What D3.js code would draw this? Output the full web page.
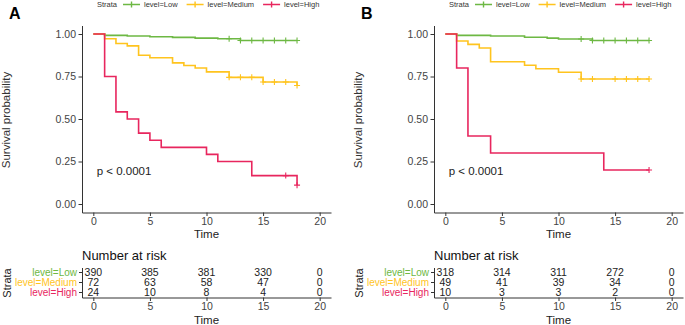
<!DOCTYPE html>
<html lang="en">
<meta charset="utf-8">
<head>
    <script src='https://d3js.org/d3.v7.min.js'></script>
    <style>
        body { margin: 0; background: #fff; }
        text { font-family: "Liberation Sans", Arial, sans-serif; }
    </style>
</head>
<body>
<script>

// strata and colours
const strata = ["level=Low", "level=Medium", "level=High"];
const colors = ["#6DB843", "#FFC41E", "#E8265E"];

// panel A : step times / survival / censor times
const lowTimeA = [0, 1, 3, 5, 7, 9, 11, 13, 18];
const lowSurvA = [1, 0.992, 0.988, 0.984, 0.98, 0.976, 0.972, 0.962, 0.962];
const lowCensA = [12, 13, 14, 15, 16, 17, 18];

const medTimeA = [0, 1, 2, 3, 4, 5, 7, 8, 9, 10, 12, 15, 18];
const medSurvA = [1, 0.972, 0.944, 0.93, 0.875, 0.86, 0.83, 0.815, 0.80, 0.777, 0.745, 0.718, 0.697];
const medCensA = [12, 13, 14, 15, 16, 17, 18];

const highTimeA = [0, 1, 2, 3, 4, 5, 6, 10, 11, 14, 18];
const highSurvA = [1, 0.75, 0.542, 0.5, 0.417, 0.375, 0.333, 0.292, 0.25, 0.167, 0.111];
const highCensA = [17, 18];

// panel B
const lowTimeB = [0, 1, 4, 7, 9, 10, 13, 18];
const lowSurvB = [1, 0.992, 0.988, 0.981, 0.976, 0.971, 0.962, 0.962];
const lowCensB = [12, 13, 14, 15, 16, 17, 18];

const medTimeB = [0, 1, 2, 3, 4, 7, 8, 10, 12, 18];
const medSurvB = [1, 0.959, 0.939, 0.918, 0.837, 0.816, 0.796, 0.775, 0.735, 0.735];
const medCensB = [12, 13, 15, 16, 17, 18];

const highTimeB = [0, 1, 2, 4, 14, 18];
const highSurvB = [1, 0.8, 0.4, 0.3, 0.2, 0.2];
const highCensB = [18];

// number at risk
const riskTimes = [0, 5, 10, 15, 20];
const riskA = [[390, 385, 381, 330, 0], [72, 63, 58, 47, 0], [24, 10, 8, 4, 0]];
const riskB = [[318, 314, 311, 272, 0], [49, 41, 39, 34, 0], [10, 3, 3, 2, 0]];

const yTicks = [0, 0.25, 0.5, 0.75, 1];
const xTicks = [0, 5, 10, 15, 20];
const pText = "p < 0.0001";

const svg = d3.select("body").append("svg")
    .attr("width", 685)
    .attr("height", 325);

function drawPanel(ox, label, curves, risk) {
    const g = svg.append("g");
    const x = d3.scaleLinear().domain([-1, 21]).range([ox, ox + 249]);
    const y = d3.scaleLinear().domain([-0.05, 1.05]).range([212.5, 25.5]);

    // panel letter
    g.append("text").attr("x", ox - 73).attr("y", 18.5)
        .style("font-size", "16px").style("font-weight", "bold").text(label);

    // axes
    const ya = g.append("g").attr("transform", `translate(${ox},0)`)
        .call(d3.axisLeft(y).tickValues(yTicks).tickFormat(d3.format(".2f")).tickSize(3.5).tickSizeOuter(0).tickPadding(2.5));
    const xa = g.append("g").attr("transform", `translate(0,212.5)`)
        .call(d3.axisBottom(x).tickValues(xTicks).tickSize(3.5).tickSizeOuter(0).tickPadding(2));
    [ya, xa].forEach(a => {
        a.selectAll("path, line").attr("stroke", "#333").attr("stroke-width", 1);
        a.selectAll("text").attr("fill", "#444").style("font-size", "10.5px").style("font-family", "Liberation Sans, Arial, sans-serif");
    });

    g.append("text").attr("transform", `translate(${ox - 72},120) rotate(-90)`)
        .attr("text-anchor", "middle").attr("fill", "#333").style("font-size", "11.5px")
        .text("Survival probability");
    g.append("text").attr("x", x(10)).attr("y", 238)
        .attr("text-anchor", "middle").attr("fill", "#222").style("font-size", "11.5px").text("Time");

    // curves
    const line = d3.line().x(d => x(d[0])).y(d => y(d[1])).curve(d3.curveStepAfter);
    curves.forEach((c, i) => {
        const pts = c.time.map((t, j) => [t, c.surv[j]]);
        g.append("path").attr("d", line(pts)).attr("fill", "none")
            .attr("stroke", colors[i]).attr("stroke-width", 1.6);
        const survAt = t => c.surv[d3.bisectRight(c.time, t) - 1];
        g.selectAll(null).data(c.cens).join("path")
            .attr("d", d => `M${x(d) - 3},${y(survAt(d))}h6M${x(d)},${y(survAt(d)) - 3}v6`)
            .attr("stroke", colors[i]).attr("stroke-width", 1.1);
    });

    // p value
    g.append("text").attr("x", x(0.3)).attr("y", y(0.17))
        .attr("fill", "#222").style("font-size", "11.5px").text(pText);

    // legend
    let lx = ox + 15;
    const ly = 4.5;
    const st = g.append("text").attr("x", lx).attr("y", ly).attr("dy", "0.35em")
        .attr("fill", "#333").style("font-size", "7.5px").text("Strata");
    lx += st.node().getComputedTextLength() + 6;
    strata.forEach((s, i) => {
        g.append("path").attr("d", `M${lx},${ly}h17M${lx + 8.5},${ly - 3}v6`)
            .attr("stroke", colors[i]).attr("stroke-width", 1.4);
        lx += 21;
        const t = g.append("text").attr("x", lx).attr("y", ly).attr("dy", "0.35em")
            .attr("fill", "#333").style("font-size", "7.5px").text(s);
        lx += t.node().getComputedTextLength() + 9;
    });

    // risk table
    g.append("text").attr("x", ox).attr("y", 260).attr("fill", "#111")
        .style("font-size", "13px").text("Number at risk");
    const yr = d3.scaleBand().domain(strata).range([267.5, 297.5]);
    const ra = g.append("g").attr("transform", `translate(${ox},0)`)
        .call(d3.axisLeft(yr).tickSize(3).tickSizeOuter(0).tickPadding(2));
    ra.selectAll("text").attr("fill", (d, i) => colors[i]).style("font-size", "10px")
        .style("font-family", "Liberation Sans, Arial, sans-serif");
    const rx = g.append("g").attr("transform", `translate(0,297.5)`)
        .call(d3.axisBottom(x).tickValues(xTicks).tickSize(3.5).tickSizeOuter(0).tickPadding(2));
    [ra, rx].forEach(a => a.selectAll("path, line").attr("stroke", "#333").attr("stroke-width", 1));
    rx.selectAll("text").attr("fill", "#444").style("font-size", "10.5px")
        .style("font-family", "Liberation Sans, Arial, sans-serif");

    risk.forEach((row, i) => {
        g.selectAll(null).data(row).join("text")
            .attr("x", (d, j) => x(riskTimes[j]))
            .attr("y", yr(strata[i]) + yr.bandwidth() / 2).attr("dy", "0.35em")
            .attr("text-anchor", "middle").attr("fill", "#222").style("font-size", "10.5px")
            .text(d => d);
    });

    g.append("text").attr("transform", `translate(${ox - 71},283) rotate(-90)`)
        .attr("text-anchor", "middle").attr("fill", "#222").style("font-size", "11px").text("Strata");
    g.append("text").attr("x", x(10)).attr("y", 323.5)
        .attr("text-anchor", "middle").attr("fill", "#222").style("font-size", "11.5px").text("Time");
}

drawPanel(82, "A", [
    {time: lowTimeA, surv: lowSurvA, cens: lowCensA},
    {time: medTimeA, surv: medSurvA, cens: medCensA},
    {time: highTimeA, surv: highSurvA, cens: highCensA}
], riskA);

drawPanel(434, "B", [
    {time: lowTimeB, surv: lowSurvB, cens: lowCensB},
    {time: medTimeB, surv: medSurvB, cens: medCensB},
    {time: highTimeB, surv: highSurvB, cens: highCensB}
], riskB);
</script>
</body>
</html>
